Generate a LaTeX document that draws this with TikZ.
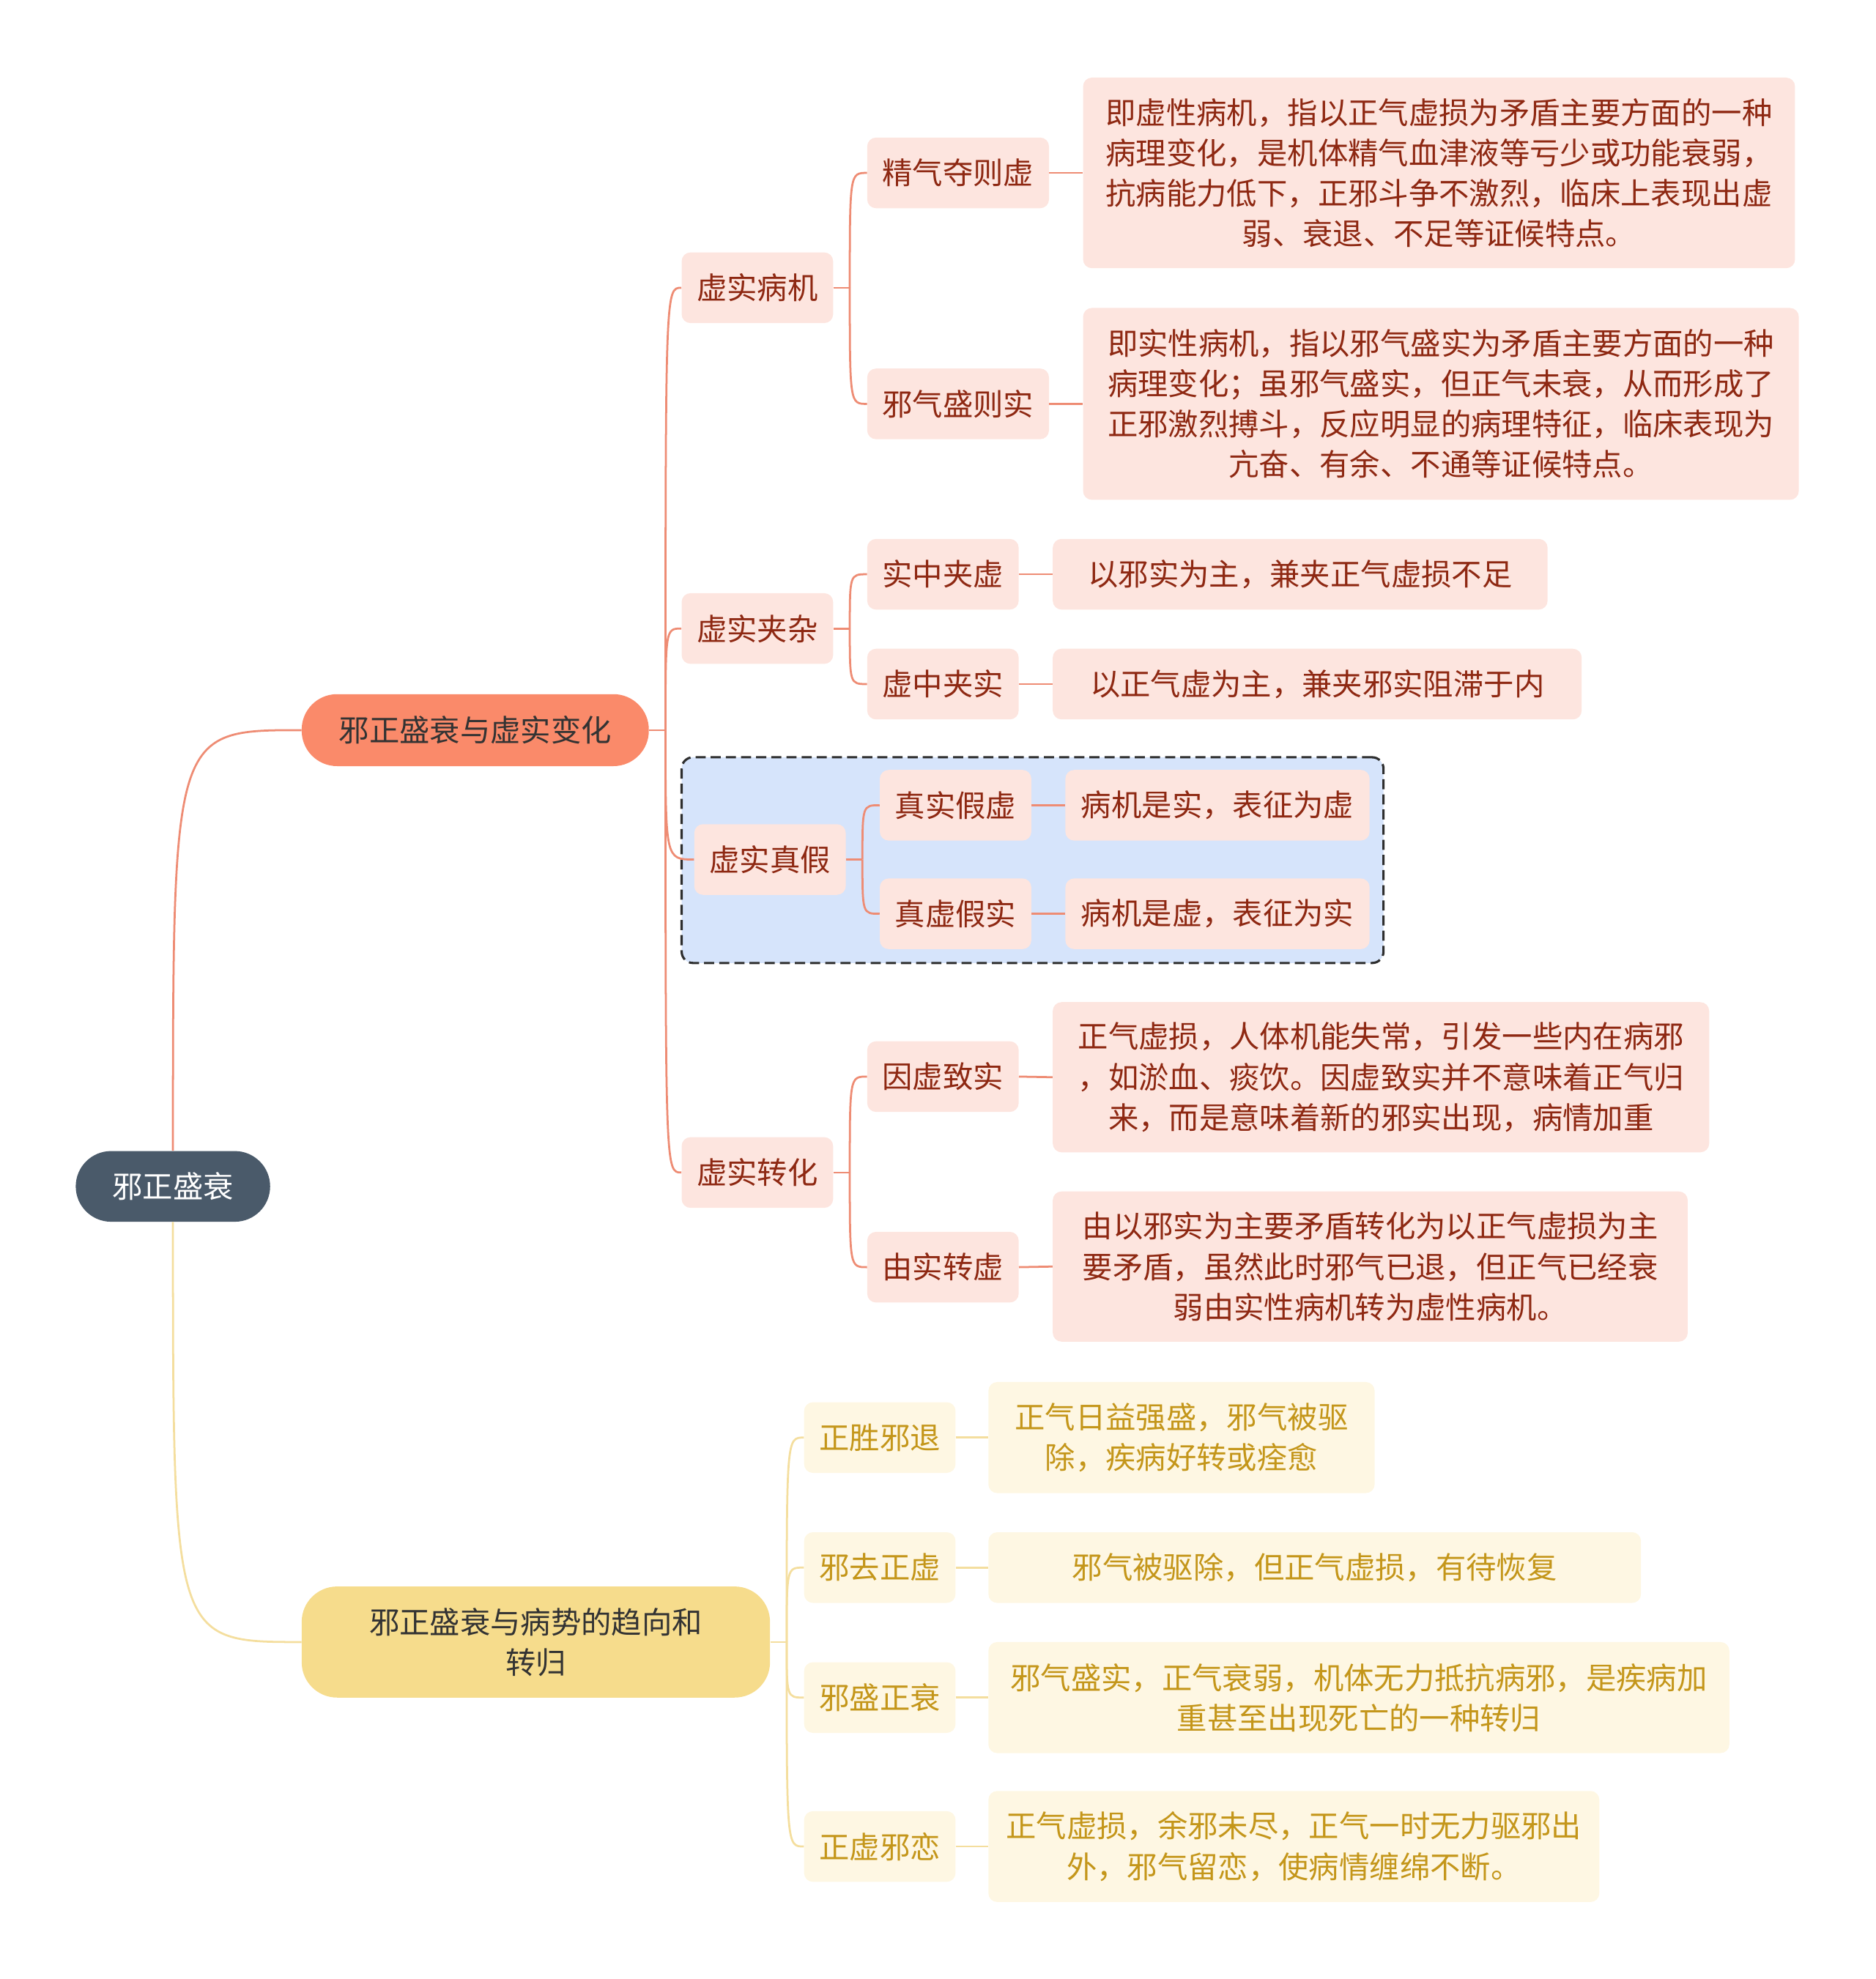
\documentclass[tikz,border=0pt]{standalone}
\usepackage{fontspec}
\setmainfont{Noto Sans CJK SC}
\usetikzlibrary{positioning, calc}
\definecolor{rootslate}{HTML}{4A5A6A}
\definecolor{salmon}{HTML}{FA8A6A}
\definecolor{salmonlight}{HTML}{FDE5DF}
\definecolor{salmontext}{HTML}{8E2812}
\definecolor{salmonline}{HTML}{EE8C74}
\definecolor{groupblue}{HTML}{D6E4FB}
\definecolor{groupedge}{HTML}{2E2E2E}
\definecolor{golden}{HTML}{F6DC8C}
\definecolor{goldenlight}{HTML}{FEF7E3}
\definecolor{goldentext}{HTML}{C4961A}
\definecolor{goldenline}{HTML}{F4DE9E}
\tikzset{
  every node/.style={font=\fontsize{24}{32}\selectfont, align=center, inner sep=0pt},
  rootbox/.style={fill=rootslate, text=white, rounded corners=28pt,
    minimum width=154pt, minimum height=56pt},
  mainbox/.style={text=black!80, rounded corners=28pt},
  redbox/.style={fill=salmonlight, text=salmontext, rounded corners=7pt,
    minimum height=56pt},
  yelbox/.style={fill=goldenlight, text=goldentext, rounded corners=7pt,
    minimum height=56pt},
  groupbox/.style={fill=groupblue, draw=groupedge, line width=1.8pt,
    dash pattern=on 8pt off 4pt, rounded corners=9pt},
  redline/.style={draw=salmonline, line width=1.6pt},
  yelline/.style={draw=goldenline, line width=1.6pt}
}
\begin{document}
\begin{tikzpicture}[x=1pt, y=-1pt]
\useasboundingbox (0,0) rectangle (1486,1568);

% group behind the true/false part
\node[groupbox, minimum width=556pt, minimum height=163pt] (grp) at (818,681.5) {};

% root and main branches
\node[rootbox] (xzss) at (137,940) {邪正盛衰};
\node[mainbox, fill=salmon, minimum width=275pt, minimum height=57pt] (xsbh) at (376.5,578.5) {邪正盛衰与虚实变化};
\node[mainbox, fill=golden, minimum width=371pt, minimum height=88pt] (bsqx) at (424.5,1301) {邪正盛衰与病势的趋向和\\转归};

% second level
\node[redbox, minimum width=120pt] (xsbj) at (600,228) {虚实病机};
\node[redbox, minimum width=120pt] (xsjz) at (600,498) {虚实夹杂};
\node[redbox, minimum width=120pt] (xszj) at (610,681) {虚实真假};
\node[redbox, minimum width=120pt] (xszh) at (600,929) {虚实转化};

\node[yelbox, minimum width=120pt] (zsxt) at (697,1139) {正胜邪退};
\node[yelbox, minimum width=120pt] (xqzx) at (697,1242) {邪去正虚};
\node[yelbox, minimum width=120pt] (xszs) at (697,1345) {邪盛正衰};
\node[yelbox, minimum width=120pt] (zxxl) at (697,1463) {正虚邪恋};

% third level
\node[redbox, minimum width=144pt] (jqdz) at (759,137) {精气夺则虚};
\node[redbox, minimum width=144pt] (xqsz) at (759,320) {邪气盛则实};
\node[redbox, minimum width=120pt] (szjx) at (747,455) {实中夹虚};
\node[redbox, minimum width=120pt] (xzjs) at (747,542) {虚中夹实};
\node[redbox, minimum width=120pt] (zsjx) at (757,638) {真实假虚};
\node[redbox, minimum width=120pt] (zxjs) at (757,724) {真虚假实};
\node[redbox, minimum width=120pt] (yxzs) at (747,853) {因虚致实};
\node[redbox, minimum width=120pt] (yszx) at (747,1004) {由实转虚};

% leaves
\node[redbox, minimum width=564pt, minimum height=151pt] (jqdzd) at (1140,137)
  {即虚性病机，指以正气虚损为矛盾主要方面的一种\\病理变化，是机体精气血津液等亏少或功能衰弱，\\抗病能力低下，正邪斗争不激烈，临床上表现出虚\\弱、衰退、不足等证候特点。};
\node[redbox, minimum width=567pt, minimum height=152pt] (xqszd) at (1141.5,320)
  {即实性病机，指以邪气盛实为矛盾主要方面的一种\\病理变化；虽邪气盛实，但正气未衰，从而形成了\\正邪激烈搏斗，反应明显的病理特征，临床表现为\\亢奋、有余、不通等证候特点。};
\node[redbox, minimum width=392pt] (szjxd) at (1030,455) {以邪实为主，兼夹正气虚损不足};
\node[redbox, minimum width=419pt] (xzjsd) at (1043.5,542) {以正气虚为主，兼夹邪实阻滞于内};
\node[redbox, minimum width=241pt] (zsjxd) at (964.5,638) {病机是实，表征为虚};
\node[redbox, minimum width=241pt] (zxjsd) at (964.5,724) {病机是虚，表征为实};
\node[redbox, minimum width=520pt, minimum height=119pt] (yxzsd) at (1094,853.5)
  {正气虚损，人体机能失常，引发一些内在病邪\\，如淤血、痰饮。因虚致实并不意味着正气归\\来，而是意味着新的邪实出现，病情加重};
\node[redbox, minimum width=503pt, minimum height=119pt] (yszxd) at (1085.5,1003.5)
  {由以邪实为主要矛盾转化为以正气虚损为主\\要矛盾，虽然此时邪气已退，但正气已经衰\\弱由实性病机转为虚性病机。};

\node[yelbox, minimum width=306pt, minimum height=88pt] (zsxtd) at (936,1139)
  {正气日益强盛，邪气被驱\\除，疾病好转或痊愈};
\node[yelbox, minimum width=517pt] (xqzxd) at (1041.5,1242) {邪气被驱除，但正气虚损，有待恢复};
\node[yelbox, minimum width=587pt, minimum height=88pt] (xszsd) at (1076.5,1345)
  {邪气盛实，正气衰弱，机体无力抵抗病邪，是疾病加\\重甚至出现死亡的一种转归};
\node[yelbox, minimum width=484pt, minimum height=88pt] (zxxld) at (1025,1463)
  {正气虚损，余邪未尽，正气一时无力驱邪出\\外，邪气留恋，使病情缠绵不断。};

% connectors
\draw[redline] (xzss.north) .. controls (xzss.north |- xsbh.west) .. (xsbh.west);
\draw[yelline] (xzss.south) .. controls (xzss.south |- bsqx.west) .. (bsqx.west);

\draw[redline] (xsbh.east) -- ++(13,0) coordinate (xsbht);
\foreach \c in {xsbj, xsjz, xszj, xszh}
  \draw[redline] (xsbht) .. controls (xsbht |- \c.west) .. (\c.west);

\draw[redline] (xsbj.east) -- ++(13,0) coordinate (xsbjt);
\foreach \c in {jqdz, xqsz}
  \draw[redline] (xsbjt) .. controls (xsbjt |- \c.west) .. (\c.west);
\draw[redline] (xsjz.east) -- ++(13,0) coordinate (xsjzt);
\foreach \c in {szjx, xzjs}
  \draw[redline] (xsjzt) .. controls (xsjzt |- \c.west) .. (\c.west);
\draw[redline] (xszj.east) -- ++(13,0) coordinate (xszjt);
\foreach \c in {zsjx, zxjs}
  \draw[redline] (xszjt) .. controls (xszjt |- \c.west) .. (\c.west);
\draw[redline] (xszh.east) -- ++(13,0) coordinate (xszht);
\foreach \c in {yxzs, yszx}
  \draw[redline] (xszht) .. controls (xszht |- \c.west) .. (\c.west);

\foreach \c in {jqdz, xqsz, szjx, xzjs, zsjx, zxjs, yxzs, yszx}
  \draw[redline] (\c.east) -- (\c d.west);

\draw[yelline] (bsqx.east) -- ++(13,0) coordinate (bsqxt);
\foreach \c in {zsxt, xqzx, xszs, zxxl} {
  \draw[yelline] (bsqxt) .. controls (bsqxt |- \c.west) .. (\c.west);
  \draw[yelline] (\c.east) -- (\c d.west);
}
\end{tikzpicture}
\end{document}
